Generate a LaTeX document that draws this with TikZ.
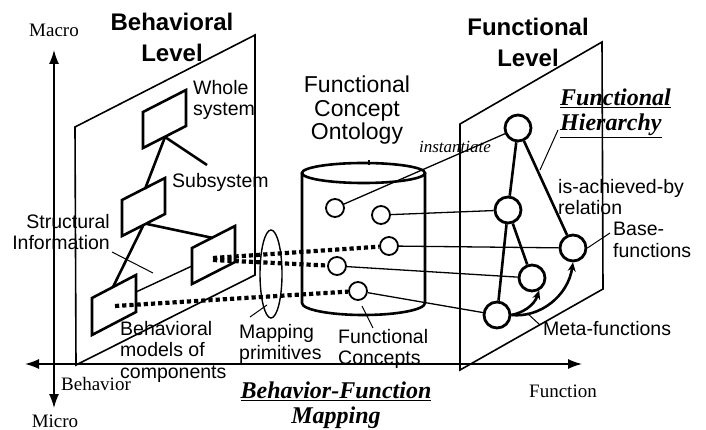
\documentclass[tikz,border=0pt]{standalone}
\usepackage{fontspec}
\setmainfont{Liberation Serif}
\setsansfont{Liberation Sans}
\usepackage{tikz}
\usetikzlibrary{arrows.meta}
\usetikzlibrary{calc}

\tikzset{
  plane/.style={line width=1.6pt},
  box/.style={line width=2.6pt},
  tree/.style={line width=2.6pt},
  link/.style={line width=1.3pt},
  leader/.style={line width=1pt},
  axis/.style={line width=1.5pt,{Latex[length=14pt,width=10pt]}-{Latex[length=14pt,width=10pt]}},
  mapdots/.style={line width=4.2pt,dash pattern=on 4.2pt off 3pt},
  concept/.style={circle,draw,line width=1.8pt,minimum size=18pt,inner sep=0pt},
  func/.style={circle,draw,line width=2.8pt,minimum size=26pt,inner sep=0pt},
  sans/.style={font=\fontsize{19.5}{21.5}\selectfont\sffamily,inner sep=0pt},
  bigsans/.style={font=\fontsize{23}{23.5}\selectfont\sffamily,inner sep=0pt},
  level/.style={font=\fontsize{24}{31}\selectfont\sffamily\bfseries,align=center,inner sep=0pt},
  serif/.style={font=\fontsize{19}{22}\selectfont,inner sep=0pt},
  title/.style={font=\fontsize{24}{25}\selectfont\bfseries\itshape,inner sep=0pt},
}

\begin{document}
\begin{tikzpicture}[x=1pt,y=-1pt]
\useasboundingbox (0,0) rectangle (706,430);

% axes
\coordinate (macro) at (54,50);
\coordinate (micro) at (54,408);
\coordinate (behav) at (25,364);
\coordinate (funct) at (582,364);
\draw[axis] (macro) -- (micro);
\draw[axis] (behav) -- (funct);
\node[serif,anchor=base] (macrolbl) at (54,37) {Macro};
\node[serif,anchor=base] (microlbl) at (55,427) {Micro};
\node[serif,anchor=base] (behlbl) at (96,390) {Behavior};
\node[serif,anchor=base] (funlbl) at (563,397) {Function};

% the two levels
\draw[plane] (75,127) -- (255,35) -- (255,275) -- (76,365) -- cycle;
\draw[plane] (460,124) -- (602,42) -- (603,289) -- (460,370) -- cycle;
\node[level,anchor=north] (blevel) at (172,13) {Behavioral\\Level};
\node[level,anchor=north] (flevel) at (528,18) {Functional\\Level};

% behavioral models
\draw[box] (143,112) -- ++(43,-22) -- ++(0,36) -- ++(-43,22) -- cycle;
\draw[box] (122,200) -- ++(43,-22) -- ++(0,36) -- ++(-43,22) -- cycle;
\draw[box] (192,248) -- ++(43,-22) -- ++(0,36) -- ++(-43,22) -- cycle;
\draw[box] (92,298) -- ++(44,-23) -- ++(0,37) -- ++(-44,23) -- cycle;
\coordinate (b1s) at (165,137);
\draw[tree] (b1s) -- (145,189);
\draw[tree] (b1s) -- (207,165);
\draw[tree] (143,226) -- (113,287);
\draw[tree] (147,224) -- (213,238);
\draw[line width=1.4pt] (136,292) -- (192,266);
\node[sans,align=left,anchor=north west] (whole) at (193,80) {Whole\\system};
\node[sans,anchor=base west] (subsys) at (172,188) {Subsystem};
\node[sans,align=right,anchor=north east] (struct) at (110,214) {Structural\\Information};
\draw[leader] (112,252) -- (153,273);
\node[sans,align=left,anchor=north west] (models) at (120,321) {Behavioral\\models of\\components};

% ontology
\draw[line width=2.6pt] (363.5,173) ellipse (61.5pt and 10pt);
\draw[line width=2.6pt] (302,173) -- (302,303) arc (180:360:61.5pt and 12pt) -- (425,173);
\draw[line width=1.2pt] (369,160) -- (369,165);
\node[bigsans,align=center,anchor=north] (onto) at (357,76) {Functional\\Concept\\Ontology};
\node[concept] (c1) at (335,208) {};
\node[concept] (c2) at (381,215) {};
\node[concept] (c3) at (389,246) {};
\node[concept] (c4) at (337,266) {};
\node[concept] (c5) at (358,291) {};
\node[sans,align=left,anchor=north west] (fconc) at (338,329) {Functional\\Concepts};
\draw[leader] (362,306) -- (373,328);

% mapping
\coordinate (d3a) at (213,258);
\coordinate (d3b) at (213,260);
\coordinate (d4) at (115,306);
\draw[mapdots] (d3a) -- (c3);
\draw[mapdots] (d3b) -- (c4);
\draw[mapdots] (d4) -- (c5);
\draw[line width=1.4pt] (271,274) ellipse (11pt and 44pt);
\node[sans,align=left,anchor=north west] (mapprim) at (239,324) {Mapping\\primitives};
\draw[leader] (250,317) -- (267,305);
\node[title,align=center,anchor=north] (bfmap) at (336,382) {\underline{Behavior-Function}\\\underline{Mapping}};

% functional hierarchy
\node[func] (f1) at (518,128) {};
\node[func] (f2) at (508,210) {};
\node[func] (f3) at (573,248) {};
\node[func] (f4) at (532,278) {};
\node[func] (f5) at (497,315) {};
\draw[tree] (f1) -- (f2);
\draw[tree] (f1) -- (f3);
\draw[tree] (f2) -- (f4);
\draw[tree] (f2) -- (f5);
\draw[tree,-{Stealth[length=9pt,width=8pt]}] (f5.east) .. controls (522,313) and (534,306) .. (f4.-60);
\draw[tree,-{Stealth[length=9pt,width=8pt]}] (f5.east) .. controls (540,318) and (568,296) .. (f3.south);
\draw[link] (c1) -- (f1);
\draw[link] (c2) -- (f2);
\draw[link] (c3) -- (f3);
\draw[link] (c4) -- (f4);
\draw[link] (c5) -- (f5);
\node[font=\fontsize{17}{20}\selectfont\itshape,anchor=base,inner sep=0pt] (inst) at (455,153) {instantiate};
\node[title,align=left,anchor=north west] (fhier) at (560,89) {\underline{Functional}\\\underline{Hierarchy}};
\draw[leader] (558,130) -- (540,170);
\node[sans,align=left,anchor=north west] (isach) at (558,179) {is-achieved-by\\relation};
\node[sans,align=left,anchor=north west] (basef) at (613,222) {Base-\\functions};
\draw[leader] (f3.east) -- (610,233);
\node[sans,anchor=base west] (metaf) at (543,335) {Meta-functions};
\draw[leader] (527,313) -- (540,325);

\end{tikzpicture}
\end{document}
